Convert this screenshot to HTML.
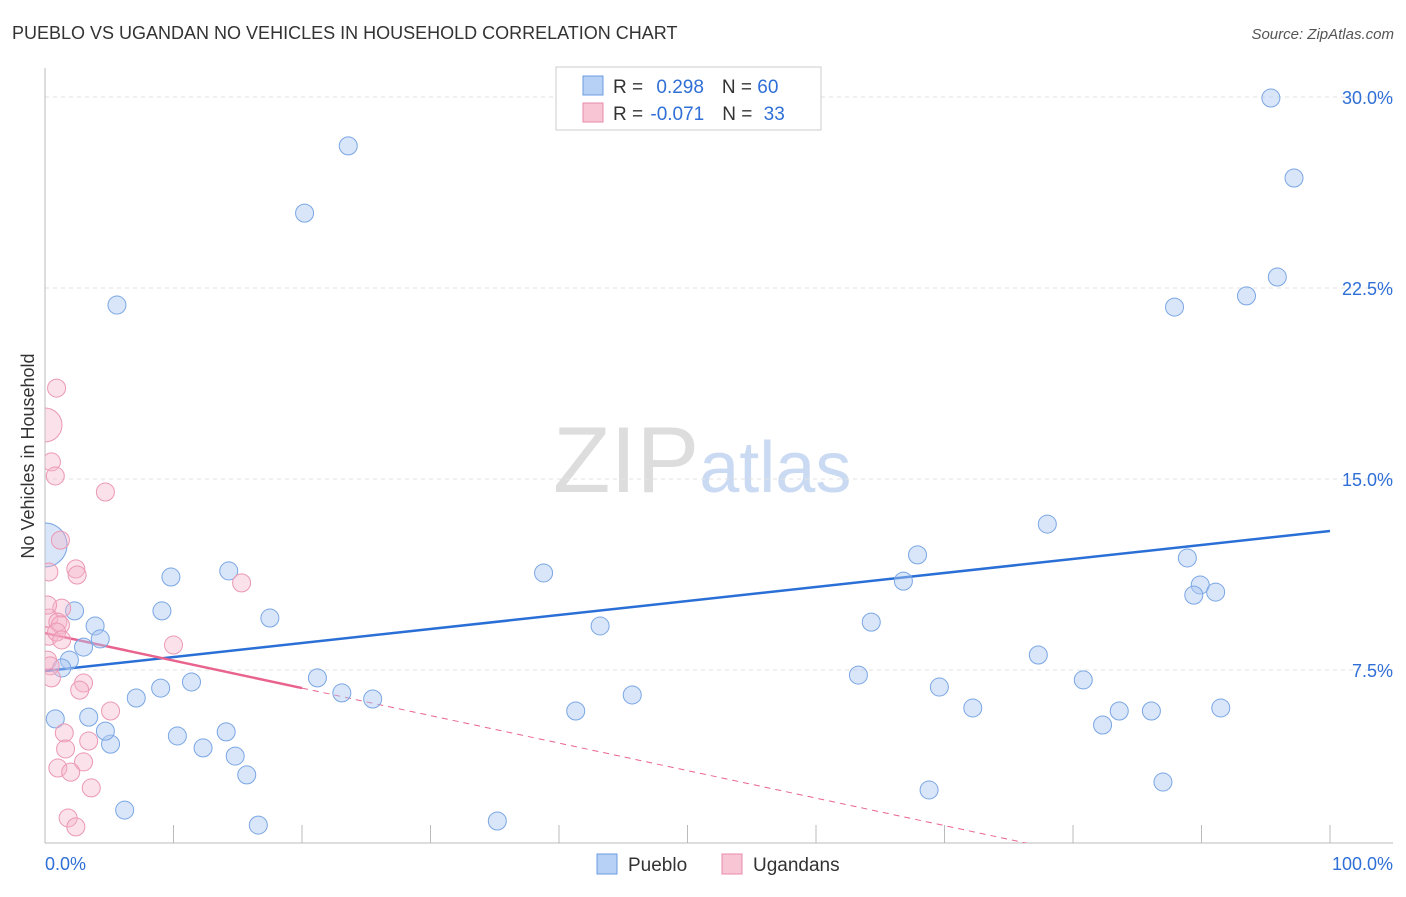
<!DOCTYPE html>
<html><head><meta charset="utf-8"><style>
body{margin:0;background:#fff;font-family:"Liberation Sans",sans-serif;}
svg text{font-family:"Liberation Sans",sans-serif;}
</style></head><body>
<svg id="chart" width="1406" height="892" xmlns="http://www.w3.org/2000/svg">
<defs><clipPath id="plotclip"><rect x="45" y="60" width="1360" height="783"/></clipPath></defs>
<text x="12" y="39" font-size="18" fill="#333">PUEBLO VS UGANDAN NO VEHICLES IN HOUSEHOLD CORRELATION CHART</text>
<text x="1394" y="39" font-size="15" fill="#555" text-anchor="end" font-style="italic">Source: ZipAtlas.com</text>
<text x="553" y="492" font-size="94" fill="#ddd" font-family="Liberation Serif,serif">ZIP<tspan fill="#c9daf2" font-family="Liberation Sans,sans-serif" font-size="72">atlas</tspan></text>
<text transform="translate(34,456) rotate(-90)" font-size="18" fill="#333" text-anchor="middle">No Vehicles in Household</text>
<g id="grid"></g><g id="axes"></g><g id="trend" clip-path="url(#plotclip)"></g><g id="pts" clip-path="url(#plotclip)"></g>
<g>
<rect x="556" y="67" width="265" height="63" fill="#fff" stroke="#ccc"/>
<rect x="583" y="76" width="20" height="19" fill="#b7d0f5" stroke="#6a9be0"/>
<rect x="583" y="103" width="20" height="19" fill="#f8c5d5" stroke="#e88aa8"/>
<text x="613" y="93" font-size="19" fill="#333">R = <tspan fill="#2f6fd6" dx="8">0.298</tspan><tspan dx="18">N = </tspan><tspan fill="#2f6fd6">60</tspan></text>
<text x="613" y="120" font-size="19" fill="#333">R = <tspan fill="#2f6fd6" dx="2">-0.071</tspan><tspan dx="18">N = </tspan><tspan fill="#2f6fd6" dx="6">33</tspan></text>
</g>
<g>
<rect x="597" y="854" width="20" height="20" fill="#b7d0f5" stroke="#6a9be0"/>
<text x="628" y="871" font-size="19" fill="#333">Pueblo</text>
<rect x="722" y="854" width="20" height="20" fill="#f8c5d5" stroke="#e88aa8"/>
<text x="753" y="871" font-size="19" fill="#333">Ugandans</text>
</g>
</svg>
<script>
const yTicks=[7.5,15,22.5,30];
const yTickLabels=["7.5%","15.0%","22.5%","30.0%"];
const xTickLabels=["0.0%","100.0%"];
const puebloX=[5.6,20.2,23.6,95.4,97.2,95.9,93.5,87.9,78.0,67.9,66.8,88.9,89.9,89.4,91.1,64.3,77.3,63.3,69.6,72.2,80.8,83.6,86.1,82.3,91.5,68.8,87.0,38.8,43.2,45.7,41.3,35.2,21.2,23.1,25.5,17.5,14.3,9.8,9.1,11.4,9.0,7.1,14.1,10.3,12.3,14.8,15.7,16.6,6.2,5.1,4.7,3.4,0.8,2.3,3.9,4.3,3.0,1.9,1.3,0];
const puebloY=[21.83,25.44,28.08,29.96,26.82,22.93,22.19,21.75,13.23,12.02,10.99,11.90,10.84,10.44,10.56,9.38,8.09,7.30,6.83,6.01,7.11,5.89,5.89,5.34,6.01,2.79,3.10,11.31,9.23,6.52,5.89,1.57,7.19,6.60,6.36,9.54,11.39,11.15,9.82,7.03,6.79,6.40,5.07,4.91,4.44,4.12,3.38,1.41,2.00,4.59,5.10,5.65,5.58,9.82,9.23,8.72,8.40,7.89,7.58,12.41];
const ugX=[0.9,0,0.5,0.8,4.7,1.2,0.3,2.4,2.5,1.3,0.3,1.0,1.2,0.3,0.9,1.3,10.0,0.2,0.4,0.5,3.0,2.7,5.1,1.5,3.4,1.6,3.0,1.0,2.0,3.6,1.8,2.4,15.3,0.2];
const ugY=[18.57,17.12,15.67,15.12,14.49,12.60,11.35,11.47,11.23,9.93,9.54,9.38,9.27,8.83,8.99,8.68,8.48,7.89,7.66,7.19,6.99,6.71,5.89,5.03,4.71,4.40,3.89,3.65,3.49,2.87,1.69,1.34,10.92,10.05];
const puebloTrend=[7.46,12.96];
const ugTrend=[8.95,-0.108];
const NS="http://www.w3.org/2000/svg";
const X=v=>45+v*12.85, Y=v=>861-v*25.467;
function mk(tag,attrs,parent){const e=document.createElementNS(NS,tag);for(const k in attrs)e.setAttribute(k,attrs[k]);document.getElementById(parent).appendChild(e);return e;}
yTicks.forEach((t,i)=>{
 const g=mk('line',{x1:45,x2:1393,y1:Y(t),y2:Y(t),stroke:'#e2e2e2','stroke-dasharray':'4,4'},'grid');
 
 
 const l=mk('text',{x:1393,y:Y(t)+7,'font-size':18,fill:'#2f6fd6','text-anchor':'end'},'grid');
 l.textContent=yTickLabels[i];
 
 
});
const ax=mk('line',{x1:45,x2:45,y1:68,y2:843,stroke:'#bbb'},'axes');


const bx=mk('line',{x1:45,x2:1393,y1:843,y2:843,stroke:'#bbb'},'axes');


for(let i=0;i<=10;i++){
 const t=mk('line',{x1:X(i*10),x2:X(i*10),y1:825,y2:843,stroke:'#bbb'},'axes');
 
 
}
[[0,'start',45],[100,'end',1393]].forEach((d,i)=>{
 const l=mk('text',{x:d[2],y:870,'font-size':18,fill:'#2f6fd6','text-anchor':d[1]},'axes');
 l.textContent=xTickLabels[i];
 
 
});
const bl=mk('line',{x1:X(0),y1:Y(puebloTrend[0]),x2:X(100),y2:Y(puebloTrend[1]),stroke:'#2a6fd6','stroke-width':2.5},'trend');


const pe=20, pz=-ugTrend[0]/ugTrend[1];
const pl=mk('line',{x1:X(0),y1:Y(ugTrend[0]),x2:X(pe),y2:Y(ugTrend[0]+ugTrend[1]*pe),stroke:'#e8648e','stroke-width':2.5},'trend');


const pd=mk('line',{x1:X(pe),y1:Y(ugTrend[0]+ugTrend[1]*pe),x2:X(pz),y2:Y(ugTrend[0]+ugTrend[1]*pz),stroke:'#e8648e','stroke-width':1,'stroke-dasharray':'6,5'},'trend');


puebloX.forEach((x,i)=>{
 const c=mk('circle',{cx:X(x),cy:Y(puebloY[i]),r:(x===0?22:9),fill:'rgba(170,200,242,0.45)',stroke:'#7aa6e4','stroke-width':1},'pts');
 
 
});
ugX.forEach((x,i)=>{
 const c=mk('circle',{cx:X(x),cy:Y(ugY[i]),r:(i===1?17:9),fill:'rgba(246,180,202,0.4)',stroke:'#eb98b3','stroke-width':1},'pts');
 
 
});
</script>
</body></html>
